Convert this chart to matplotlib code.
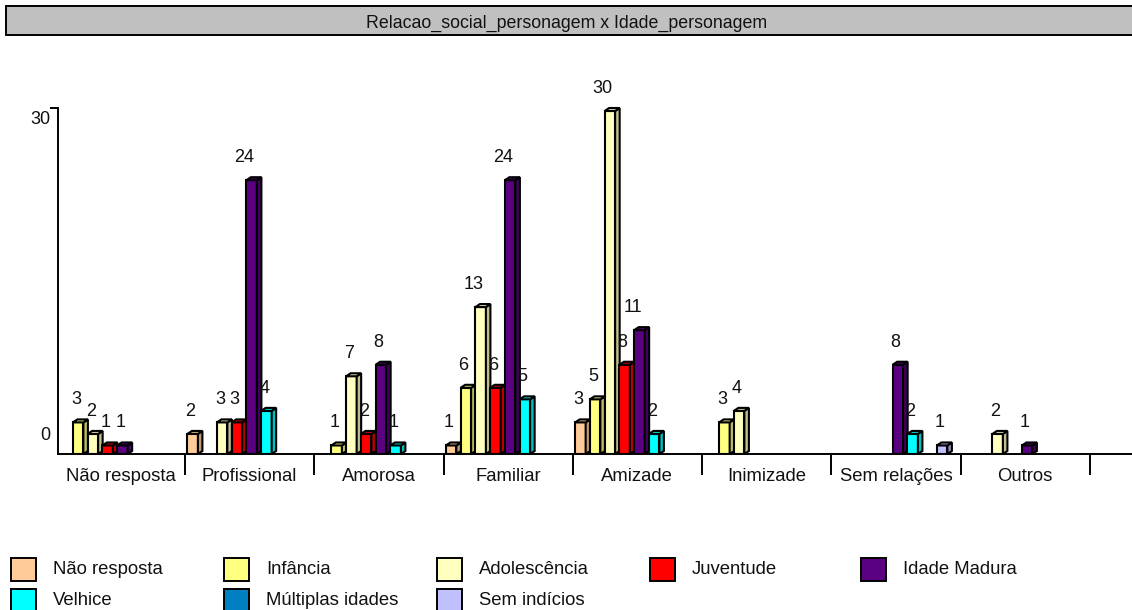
import matplotlib
matplotlib.use("Agg")
import matplotlib.pyplot as plt
from matplotlib.patches import Rectangle, Polygon
from matplotlib.colors import to_rgb

plt.rcParams["font.family"] = ["Liberation Sans", "DejaVu Sans"]

W, H = 1132, 610

title = "Relacao_social_personagem x Idade_personagem"
categories = ["Não resposta", "Profissional", "Amorosa", "Familiar",
              "Amizade", "Inimizade", "Sem relações", "Outros"]
series_names = ["Não resposta", "Infância", "Adolescência", "Juventude",
                "Idade Madura", "Velhice", "Múltiplas idades", "Sem indícios"]
colors = ["#FFCC99", "#FFFF80", "#FFFFC0", "#FF0000",
          "#5A0080", "#00FFFF", "#0080C0", "#C0C0FF"]

# one list per series, one value per category (0 = no bar)
nao_resposta = [0, 2, 0, 1, 3, 0, 0, 0]
infancia = [3, 0, 1, 6, 5, 3, 0, 0]
adolescencia = [2, 3, 7, 13, 30, 4, 0, 2]
juventude = [1, 3, 2, 6, 8, 0, 0, 0]
idade_madura = [1, 24, 8, 24, 11, 0, 8, 1]
velhice = [0, 4, 1, 5, 2, 0, 2, 0]
multiplas = [0, 0, 0, 0, 0, 0, 0, 0]
sem_indicios = [0, 0, 0, 0, 0, 0, 1, 0]
series = [nao_resposta, infancia, adolescencia, juventude,
          idade_madura, velhice, multiplas, sem_indicios]

fig = plt.figure(figsize=(W / 100, H / 100), dpi=100, facecolor="white")

# overlay in pixel coords for title bar and legend
bg = fig.add_axes([0, 0, 1, 1])
bg.set_xlim(0, W)
bg.set_ylim(H, 0)
bg.axis("off")

bg.add_patch(Rectangle((6, 5.5), W + 10 - 6, 29.5, fc="#C0C0C0", ec="black", lw=1.4))
bg.text(566.5, 28, title, ha="center", va="baseline", fontsize=12.8, color="#111111")

# plot area: the group slots start 2.25 px left of the y axis line
left, right, base, top = 57.5, 1132, 454, 108
group_px = 129.25
first_group_px = 55.75
ax = fig.add_axes([left / W, 1 - base / H, (right - left) / W, (base - top) / H])
ax.patch.set_alpha(0)
ax.set_xlim((left - first_group_px) / group_px, (right - first_group_px) / group_px)
ax.set_ylim(0, 30)
for s in ["top", "right"]:
    ax.spines[s].set_visible(False)
for s in ["left", "bottom"]:
    ax.spines[s].set_linewidth(1.4)

px_x = 1 / group_px
px_y = 30 / (base - top)

ax.set_yticks([30])
ax.set_yticklabels([])
ax.tick_params(axis="y", length=6, width=1.4, direction="out")
x_lo = ax.get_xlim()[0]
ax.text(x_lo - 7.5 * px_x, 30 - 12 * px_y, "30", ha="right", va="center", fontsize=13, color="#111111", clip_on=False)
ax.text(x_lo - 7.5 * px_x, 19 * px_y, "0", ha="right", va="center", fontsize=13, color="#111111", clip_on=False)

ax.set_xticks(range(1, len(categories) + 1))
ax.set_xticklabels([])
ax.tick_params(axis="x", length=15, width=1.4, direction="out")
for i, c in enumerate(categories):
    ax.text(i + 0.5, -27 * px_y, c, ha="center", va="baseline", fontsize=13.3, color="#111111")

step = 14.75 * px_x
bar_w = 10.5 * px_x
dx, dy = 4.5 * px_x, 3 * px_y
offset = 2.4 * px_x


def shade(col, f):
    return tuple(c * f for c in to_rgb(col))


for k, vals in enumerate(series):
    for i, v in enumerate(vals):
        if v == 0:
            continue
        x0 = i + offset + k * step
        x1 = x0 + bar_w
        front = v - dy
        ax.bar(x0, front, width=bar_w, align="edge", color=colors[k],
               edgecolor="black", linewidth=1.5, zorder=3 + k)
        ax.add_patch(Polygon([(x1, 0), (x1 + dx, dy), (x1 + dx, v), (x1, front)],
                             fc=shade(colors[k], 0.75), ec="black", lw=1.5,
                             zorder=3 + k, clip_on=False))
        ax.add_patch(Polygon([(x0, front), (x0 + dx, v), (x1 + dx, v), (x1, front)],
                             fc=shade(colors[k], 0.85), ec="black", lw=1.5,
                             zorder=3 + k, clip_on=False))
        # labels are right aligned just past the left edge of the bar
        ax.text(x0 + 8 * px_x, v + 19.5 * px_y, str(v), ha="right", va="center",
                fontsize=13, color="#111111", zorder=20, clip_on=False)

# legend
col_x = [11, 224, 437, 650, 861]
row_y = [558, 589]
for k, name in enumerate(series_names):
    r = 0 if k < 5 else 1
    c = k if k < 5 else k - 5
    bg.add_patch(Rectangle((col_x[c], row_y[r]), 25, 23, fc=colors[k], ec="black", lw=1.4))
    bg.text(col_x[c] + 42, row_y[r] + 16, name, ha="left", va="baseline", fontsize=13.3, color="#111111")

fig.savefig("out.png", dpi=100)
